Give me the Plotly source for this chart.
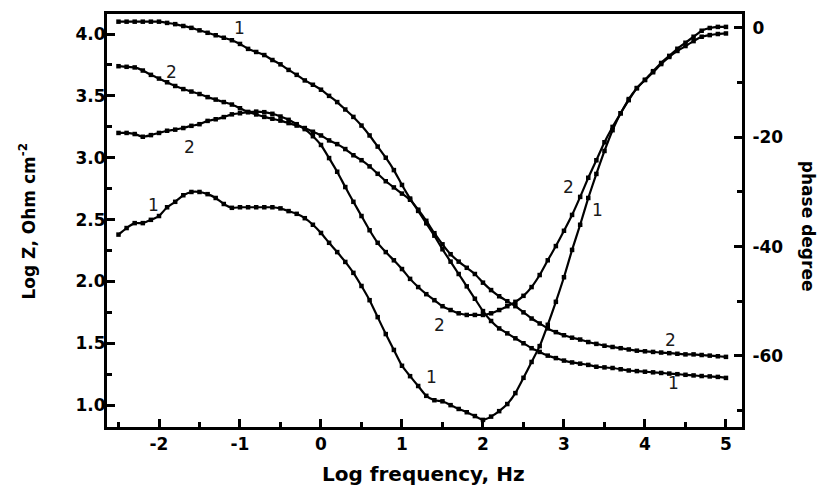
import plotly.graph_objects as go

# ---- data ----
# log frequency grid, 10 points per decade
LOG_FREQ = [round(-2.5 + 0.1 * i, 1) for i in range(76)]

LOGZ_1 = [
    4.10, 4.10, 4.10, 4.10, 4.10, 4.10,              # -2.5 .. -2.0
    4.09, 4.08, 4.065, 4.05, 4.03,                   # -1.9 .. -1.5
    4.01, 3.99, 3.97, 3.95, 3.92,                    # -1.4 .. -1.0
    3.88, 3.855, 3.83, 3.79, 3.755,                  # -0.9 .. -0.5
    3.71, 3.67, 3.625, 3.59, 3.55,                   # -0.4 .. 0.0
    3.50, 3.45, 3.39, 3.33, 3.26,                    # 0.1 .. 0.5
    3.18, 3.09, 3.00, 2.90, 2.78,                    # 0.6 .. 1.0
    2.67, 2.57, 2.47, 2.37, 2.26,                    # 1.1 .. 1.5
    2.16, 2.06, 1.96, 1.86, 1.76,                    # 1.6 .. 2.0
    1.68, 1.62, 1.58, 1.54, 1.50,                    # 2.1 .. 2.5
    1.46, 1.43, 1.40, 1.38, 1.36,                    # 2.6 .. 3.0
    1.345, 1.335, 1.325, 1.31, 1.305,                # 3.1 .. 3.5
    1.30, 1.29, 1.28, 1.275, 1.27,                   # 3.6 .. 4.0
    1.265, 1.26, 1.255, 1.25, 1.245,                 # 4.1 .. 4.5
    1.24, 1.235, 1.232, 1.228, 1.22,                 # 4.6 .. 5.0
]

LOGZ_2 = [
    3.74, 3.735, 3.73, 3.705, 3.67, 3.64,            # -2.5 .. -2.0
    3.61, 3.58, 3.555, 3.535, 3.515,
    3.49, 3.47, 3.45, 3.43, 3.40,
    3.37, 3.35, 3.33, 3.315, 3.30,
    3.28, 3.26, 3.24, 3.21, 3.18,
    3.14, 3.11, 3.07, 3.02, 2.98,
    2.93, 2.87, 2.81, 2.76, 2.71,
    2.66, 2.58, 2.49, 2.39, 2.30,
    2.22, 2.16, 2.11, 2.06, 1.99,
    1.93, 1.88, 1.84, 1.80, 1.75,
    1.70, 1.66, 1.62, 1.59, 1.565,
    1.545, 1.53, 1.51, 1.495, 1.48,
    1.47, 1.46, 1.45, 1.44, 1.435,
    1.43, 1.425, 1.42, 1.415, 1.41,
    1.41, 1.405, 1.40, 1.395, 1.39,
]

PHASE_1 = [
    -37.8, -36.6, -35.7, -35.7, -35.1, -34.4,        # -2.5 .. -2.0
    -32.8, -31.8, -30.6, -30.0, -30.0,
    -30.4, -31.1, -32.2, -32.9, -32.8,
    -32.8, -32.8, -32.8, -32.8, -33.0,
    -33.5, -34.0, -34.8, -36.0, -37.5,
    -39.3, -41.0, -42.8, -44.8, -47.2,
    -49.8, -52.9, -56.0, -58.9, -61.8,
    -63.7, -65.5, -67.3, -68.1, -68.3,
    -69.0, -69.7, -70.3, -71.0, -71.7,
    -71.1, -70.1, -68.8, -66.8, -64.0,
    -61.1, -58.2, -54.3, -50.1, -45.6,
    -40.6, -36.0, -31.1, -26.7, -22.5,
    -18.7, -15.6, -13.2, -11.0, -9.5,
    -8.1, -6.6, -5.3, -4.2, -3.3,
    -2.4, -1.6, -1.3, -1.1, -1.0,
]

PHASE_2 = [
    -19.2, -19.2, -19.4, -19.9, -19.6, -19.2,        # -2.5 .. -2.0
    -18.8, -18.6, -18.3, -17.9, -17.6,
    -17.0, -16.7, -16.3, -15.8, -15.6,
    -15.4, -15.3, -15.4, -15.7, -16.2,
    -16.8, -17.6, -18.5, -19.8, -21.4,
    -23.8, -26.3, -29.1, -31.8, -34.4,
    -37.0, -39.3, -41.0, -42.5, -44.1,
    -45.9, -47.4, -48.7, -49.8, -50.9,
    -51.6, -52.2, -52.5, -52.5, -52.5,
    -52.2, -51.6, -50.9, -50.1, -49.0,
    -47.4, -45.2, -42.5, -39.9, -37.1,
    -34.2, -30.9, -27.4, -24.2, -20.9,
    -18.1, -15.6, -13.0, -11.0, -9.5,
    -7.9, -6.4, -5.1, -3.8, -2.7,
    -1.6, -0.5, 0.0, 0.2, 0.2,
]

X_TICKS = [-2, -1, 0, 1, 2, 3, 4, 5]
X_TICK_LABELS = ["-2", "-1", "0", "1", "2", "3", "4", "5"]
X_MINOR = [-2.5, -1.5, -0.5, 0.5, 1.5, 2.5, 3.5, 4.5]
Y_TICKS = [1.0, 1.5, 2.0, 2.5, 3.0, 3.5, 4.0]
Y_TICK_LABELS = ["1.0", "1.5", "2.0", "2.5", "3.0", "3.5", "4.0"]
Y_MINOR = [1.25, 1.75, 2.25, 2.75, 3.25, 3.75]
Y2_TICKS = [0, -20, -40, -60]
Y2_TICK_LABELS = ["0", "-20", "-40", "-60"]
Y2_MINOR = [-10, -30, -50, -70]

# curve labels: (text, x, y on left axis)
CURVE_LABELS = [
    ("1", -1.0, 4.05), ("2", -1.84, 3.69), ("2", -1.62, 3.09), ("1", -2.07, 2.62),
    ("2", 1.46, 1.65), ("1", 1.37, 1.23), ("2", 3.05, 2.76), ("1", 3.41, 2.58),
    ("2", 4.31, 1.53), ("1", 4.35, 1.18),
]

FONT = "DejaVu Sans"
BOLD = dict(family=FONT, size=17, color="black", weight=700)

fig = go.Figure()
line_style = dict(color="black", width=2.2, shape="spline", smoothing=0.5)
marker_style = dict(symbol="square", size=4.5, color="black")

for ys, axis in [(LOGZ_1, "y"), (LOGZ_2, "y"), (PHASE_1, "y2"), (PHASE_2, "y2")]:
    fig.add_trace(go.Scatter(x=LOG_FREQ, y=ys, yaxis=axis, mode="lines+markers",
                             line=line_style, marker=marker_style, showlegend=False,
                             cliponaxis=False))

annotations = []
for txt, ax_, ay_ in CURVE_LABELS:
    annotations.append(dict(text=txt, x=ax_, y=ay_, xref="x", yref="y", showarrow=False,
                            font=dict(family=FONT, size=17, color="#1a1a1a")))

annotations += [
    dict(text="Log Z, Ohm cm<sup>-2</sup>", xref="paper", yref="paper", x=-0.126, y=0.50,
         showarrow=False, textangle=-90, xanchor="center", yanchor="middle",
         font=dict(family=FONT, size=17, color="black", weight=700)),
    dict(text="phase degree", xref="paper", yref="paper", x=1.104, y=0.487,
         showarrow=False, textangle=90, xanchor="center", yanchor="middle",
         font=dict(family=FONT, size=17, color="black", weight=700)),
    dict(text="Log frequency, Hz", xref="paper", yref="paper", x=0.499, y=-0.114,
         showarrow=False, xanchor="center", yanchor="middle",
         font=dict(family=FONT, size=20, color="black", weight=700)),
]

axis_common = dict(showline=True, linecolor="black", linewidth=3, showgrid=False,
                   zeroline=False, ticks="inside", tickcolor="black", tickwidth=2.5,
                   ticklen=8, tickfont=BOLD)

fig.update_layout(
    width=822, height=489,
    margin=dict(l=107, r=80, t=14, b=62),
    paper_bgcolor="white", plot_bgcolor="white",
    xaxis=dict(**axis_common, range=[-2.642, 5.198], mirror=True,
               tickmode="array", tickvals=X_TICKS, ticktext=X_TICK_LABELS,
               ticklabelstandoff=0,
               minor=dict(ticks="inside", ticklen=5, tickwidth=2.5, tickcolor="black",
                          tickmode="array", tickvals=X_MINOR, showgrid=False)),
    yaxis=dict(**axis_common, range=[0.823, 4.162],
               tickmode="array", tickvals=Y_TICKS, ticktext=Y_TICK_LABELS,
               ticklabelstandoff=-5,
               minor=dict(ticks="inside", ticklen=5, tickwidth=2.5, tickcolor="black",
                          tickmode="array", tickvals=Y_MINOR, showgrid=False)),
    yaxis2=dict(**axis_common, range=[-73.0, 2.56], overlaying="y", side="right",
                anchor="x", tickmode="array", tickvals=Y2_TICKS, ticktext=Y2_TICK_LABELS,
                ticklabelstandoff=4,
                minor=dict(ticks="inside", ticklen=5, tickwidth=2.5, tickcolor="black",
                           tickmode="array", tickvals=Y2_MINOR, showgrid=False)),
    annotations=annotations,
)

fig.write_html(
    "out.html",
    config={"displayModeBar": False},
    post_script="document.body.style.margin='0';document.body.style.overflow='hidden';",
)
